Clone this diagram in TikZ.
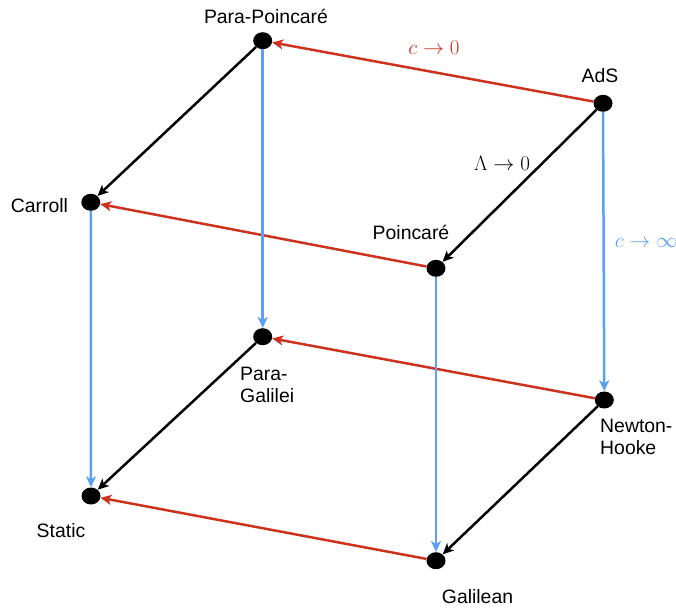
\RequirePackage{fix-cm}
\documentclass[tikz,border=0pt]{standalone}
\usepackage{fontspec}
\newfontfamily\labfont{Liberation Sans}
\usetikzlibrary{arrows.meta,shapes.geometric}
\definecolor{cred}{RGB}{204,50,30}
\definecolor{cblue}{RGB}{90,160,245}
\begin{document}
\begin{tikzpicture}[x=1pt,y=-1pt,
  dot/.style={ellipse, fill=black, minimum width=19pt, minimum height=17pt, inner sep=0pt},
  lab/.style={font=\labfont\fontsize{19.4}{21.5}\selectfont, align=left, inner sep=0pt},
  mlab/.style={font=\fontsize{21}{24}\selectfont, inner sep=0pt},
  arr/.style={line width=2.5pt, -{Stealth[length=11pt,width=10pt,inset=3pt]}},
  redarr/.style={arr, cred},
  bluearr/.style={arr, cblue},
  blackarr/.style={arr, black}]
\path[use as bounding box] (0,0) rectangle (676,607);
% dots
\node[dot] (pp) at (262.7,40.7) {};
\node[dot] (ads) at (603,103.3) {};
\node[dot] (car) at (90.8,202.3) {};
\node[dot] (poi) at (436,268.3) {};
\node[dot] (pg) at (262.7,336.7) {};
\node[dot] (nh) at (604.3,400) {};
\node[dot] (sta) at (91,496) {};
\node[dot] (gal) at (436,560.7) {};
% labels
\node[lab] (lpp) at (266,16) {Para-Poincaré};
\node[lab] (lads) at (600,76) {AdS};
\node[lab] (lcar) at (39.5,206) {Carroll};
\node[lab] (lpoi) at (411,232) {Poincaré};
\node[lab, anchor=west] (lpg) at (240,385) {Para-\\Galilei};
\node[lab, anchor=west] (lnh) at (600,437) {Newton-\\Hooke};
\node[lab] (lsta) at (61,531) {Static};
\node[lab] (lgal) at (477.5,597) {Galilean};
% edge labels
\node[mlab, text=cred] (lc0) at (434,48) {$c\to0$};
\node[mlab] (llam) at (502,163) {$\Lambda\to0$};
\node[mlab, text=cblue] (lcinf) at (646,243) {$c\to\infty$};
% red arrows
\draw[redarr] (ads) -- (pp);
\draw[redarr] (poi) -- (car);
\draw[redarr] (nh) -- (pg);
\draw[redarr] (gal) -- (sta);
% black arrows
\draw[blackarr] (pp) -- (car);
\draw[blackarr] (ads) -- (poi);
\draw[blackarr] (pg) -- (sta);
\draw[blackarr] (nh) -- (gal);
% blue arrows
\draw[bluearr] (pp) -- (pg);
\draw[bluearr] (ads) -- (nh);
\draw[bluearr] (car) -- (sta);
\draw[bluearr] (poi) -- (gal);
\end{tikzpicture}
\end{document}
